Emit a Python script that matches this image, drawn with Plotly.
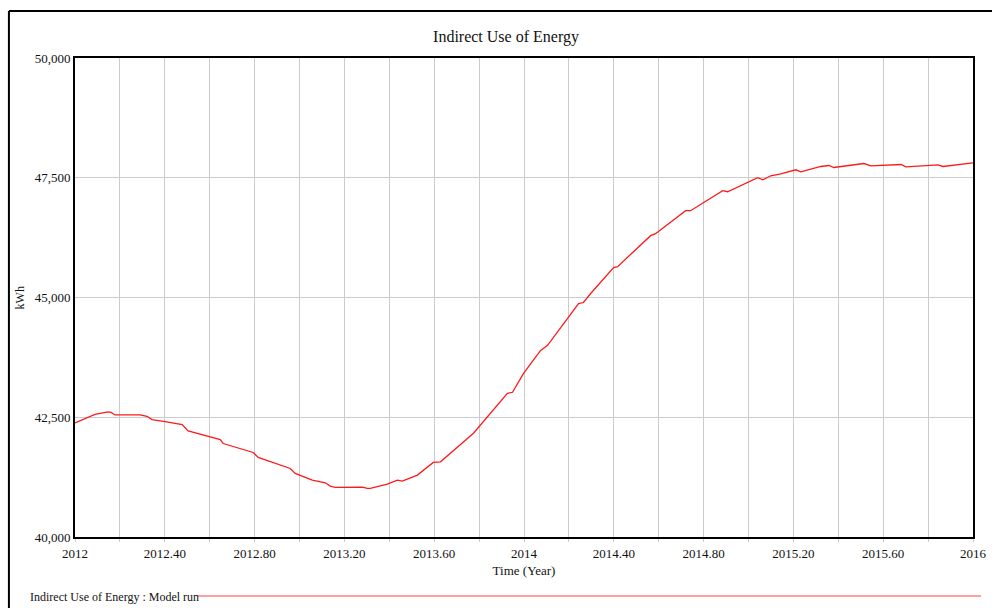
import plotly.graph_objects as go

# Time (Year) and Indirect Use of Energy (kWh)
time_year = [2012.000, 2012.045, 2012.089, 2012.147, 2012.161, 2012.178, 2012.290, 2012.321,
             2012.343, 2012.401, 2012.477, 2012.504, 2012.611, 2012.647, 2012.660, 2012.794,
             2012.816, 2012.892, 2012.959, 2012.981, 2013.057, 2013.115, 2013.137, 2013.159,
             2013.280, 2013.302, 2013.315, 2013.391, 2013.436, 2013.458, 2013.525, 2013.596,
             2013.628, 2013.739, 2013.775, 2013.926, 2013.949, 2013.998, 2014.074, 2014.105,
             2014.207, 2014.243, 2014.265, 2014.297, 2014.399, 2014.417, 2014.564, 2014.586,
             2014.720, 2014.742, 2014.885, 2014.907, 2015.041, 2015.064, 2015.099, 2015.144,
             2015.211, 2015.233, 2015.322, 2015.358, 2015.380, 2015.514, 2015.545, 2015.679,
             2015.701, 2015.844, 2015.866, 2015.991, 2016.000]
energy_kwh = [42381, 42473, 42562, 42610, 42600, 42548, 42548, 42520,
              42452, 42410, 42348, 42215, 42077, 42035, 41952, 41764,
              41660, 41535, 41431, 41327, 41187, 41131, 41062, 41035,
              41042, 41014, 41014, 41104, 41187, 41166, 41292, 41556,
              41569, 42021, 42166, 43000, 43021, 43416, 43895, 44000,
              44666, 44875, 44895, 45083, 45625, 45645, 46291, 46333,
              46812, 46812, 47229, 47208, 47500, 47458, 47541, 47583,
              47666, 47625, 47735, 47756, 47714, 47797, 47750, 47777,
              47729, 47770, 47735, 47797, 47810]

x_tick_vals = [2012, 2012.4, 2012.8, 2013.2, 2013.6, 2014, 2014.4, 2014.8, 2015.2, 2015.6, 2016]
x_tick_text = ["2012", "2012.40", "2012.80", "2013.20", "2013.60", "2014",
               "2014.40", "2014.80", "2015.20", "2015.60", "2016"]
y_tick_vals = [40000, 42500, 45000, 47500, 50000]
y_tick_text = ["40,000", "42,500", "45,000", "47,500", "50,000"]

FONT = "Liberation Serif, Times New Roman, serif"
GRID = "#cccccc"

fig = go.Figure()
fig.add_trace(go.Scatter(x=time_year, y=energy_kwh, mode="lines",
                         line=dict(color="#ff1a1a", width=1.3),
                         name="Indirect Use of Energy : Model run", showlegend=False))

fig.update_layout(
    width=992, height=608, autosize=False,
    margin=dict(l=75, r=19, t=58, b=71, pad=0),
    paper_bgcolor="white", plot_bgcolor="white",
    font=dict(family=FONT, size=13, color="#111111"),
    title=dict(text="Indirect Use of Energy", xref="container", yref="container",
               x=506/992, y=1 - 36/608, xanchor="center", yanchor="middle",
               font=dict(family=FONT, size=16, color="#111111")),
    xaxis=dict(range=[2012, 2016], tickvals=x_tick_vals, ticktext=x_tick_text,
               automargin=False,
               showgrid=True, gridcolor=GRID, gridwidth=1,
               showline=True, linecolor="black", linewidth=2, mirror=True,
               ticks="outside", ticklen=3, tickcolor=GRID,
               minor=dict(tick0=2012, dtick=0.2, showgrid=True, gridcolor=GRID, gridwidth=1,
                          ticks="outside", ticklen=3, tickcolor=GRID),
               zeroline=False,
               title=dict(text="Time (Year)", standoff=6, font=dict(family=FONT, size=13))),
    yaxis=dict(range=[40000, 50000], tickvals=y_tick_vals, ticktext=y_tick_text,
               automargin=False,
               showgrid=True, gridcolor=GRID, gridwidth=1,
               showline=True, linecolor="black", linewidth=2, mirror=True,
               ticks="", zeroline=False),
)

# y-axis unit label
fig.add_annotation(text="kWh", xref="paper", yref="paper", x=(20 - 75) / 897, y=0.5,
                   textangle=-90, showarrow=False, xanchor="center", yanchor="middle",
                   font=dict(family=FONT, size=12))

# legend line at the bottom
fig.add_annotation(text="Indirect Use of Energy : Model run", xref="paper", yref="paper",
                   x=(28 - 75) / 897, y=(537 - 597) / 479, xanchor="left", yanchor="middle",
                   showarrow=False, font=dict(family=FONT, size=12))
fig.add_shape(type="line", xref="paper", yref="paper",
              x0=(197 - 75) / 897, x1=(980 - 75) / 897,
              y0=(537 - 596) / 479, y1=(537 - 596) / 479,
              line=dict(color="#ff4040", width=1))

# outer frame (left and top edges)
fig.add_shape(type="line", xref="paper", yref="paper",
              x0=(9 - 75) / 897, x1=(9 - 75) / 897, y0=(537 - 11) / 479, y1=(537 - 612) / 479,
              line=dict(color="black", width=2))
fig.add_shape(type="line", xref="paper", yref="paper",
              x0=(9 - 75) / 897, x1=(996 - 75) / 897, y0=(537 - 11) / 479, y1=(537 - 11) / 479,
              line=dict(color="black", width=2))

fig.write_html("out.html", config={"displayModeBar": False})

# remove the default page margin so the figure fills the window exactly
with open("out.html", "r", encoding="utf-8") as f:
    html = f.read()
html = html.replace("<head>", "<head><style>html,body{margin:0;padding:0;overflow:hidden;}</style>", 1)
with open("out.html", "w", encoding="utf-8") as f:
    f.write(html)
